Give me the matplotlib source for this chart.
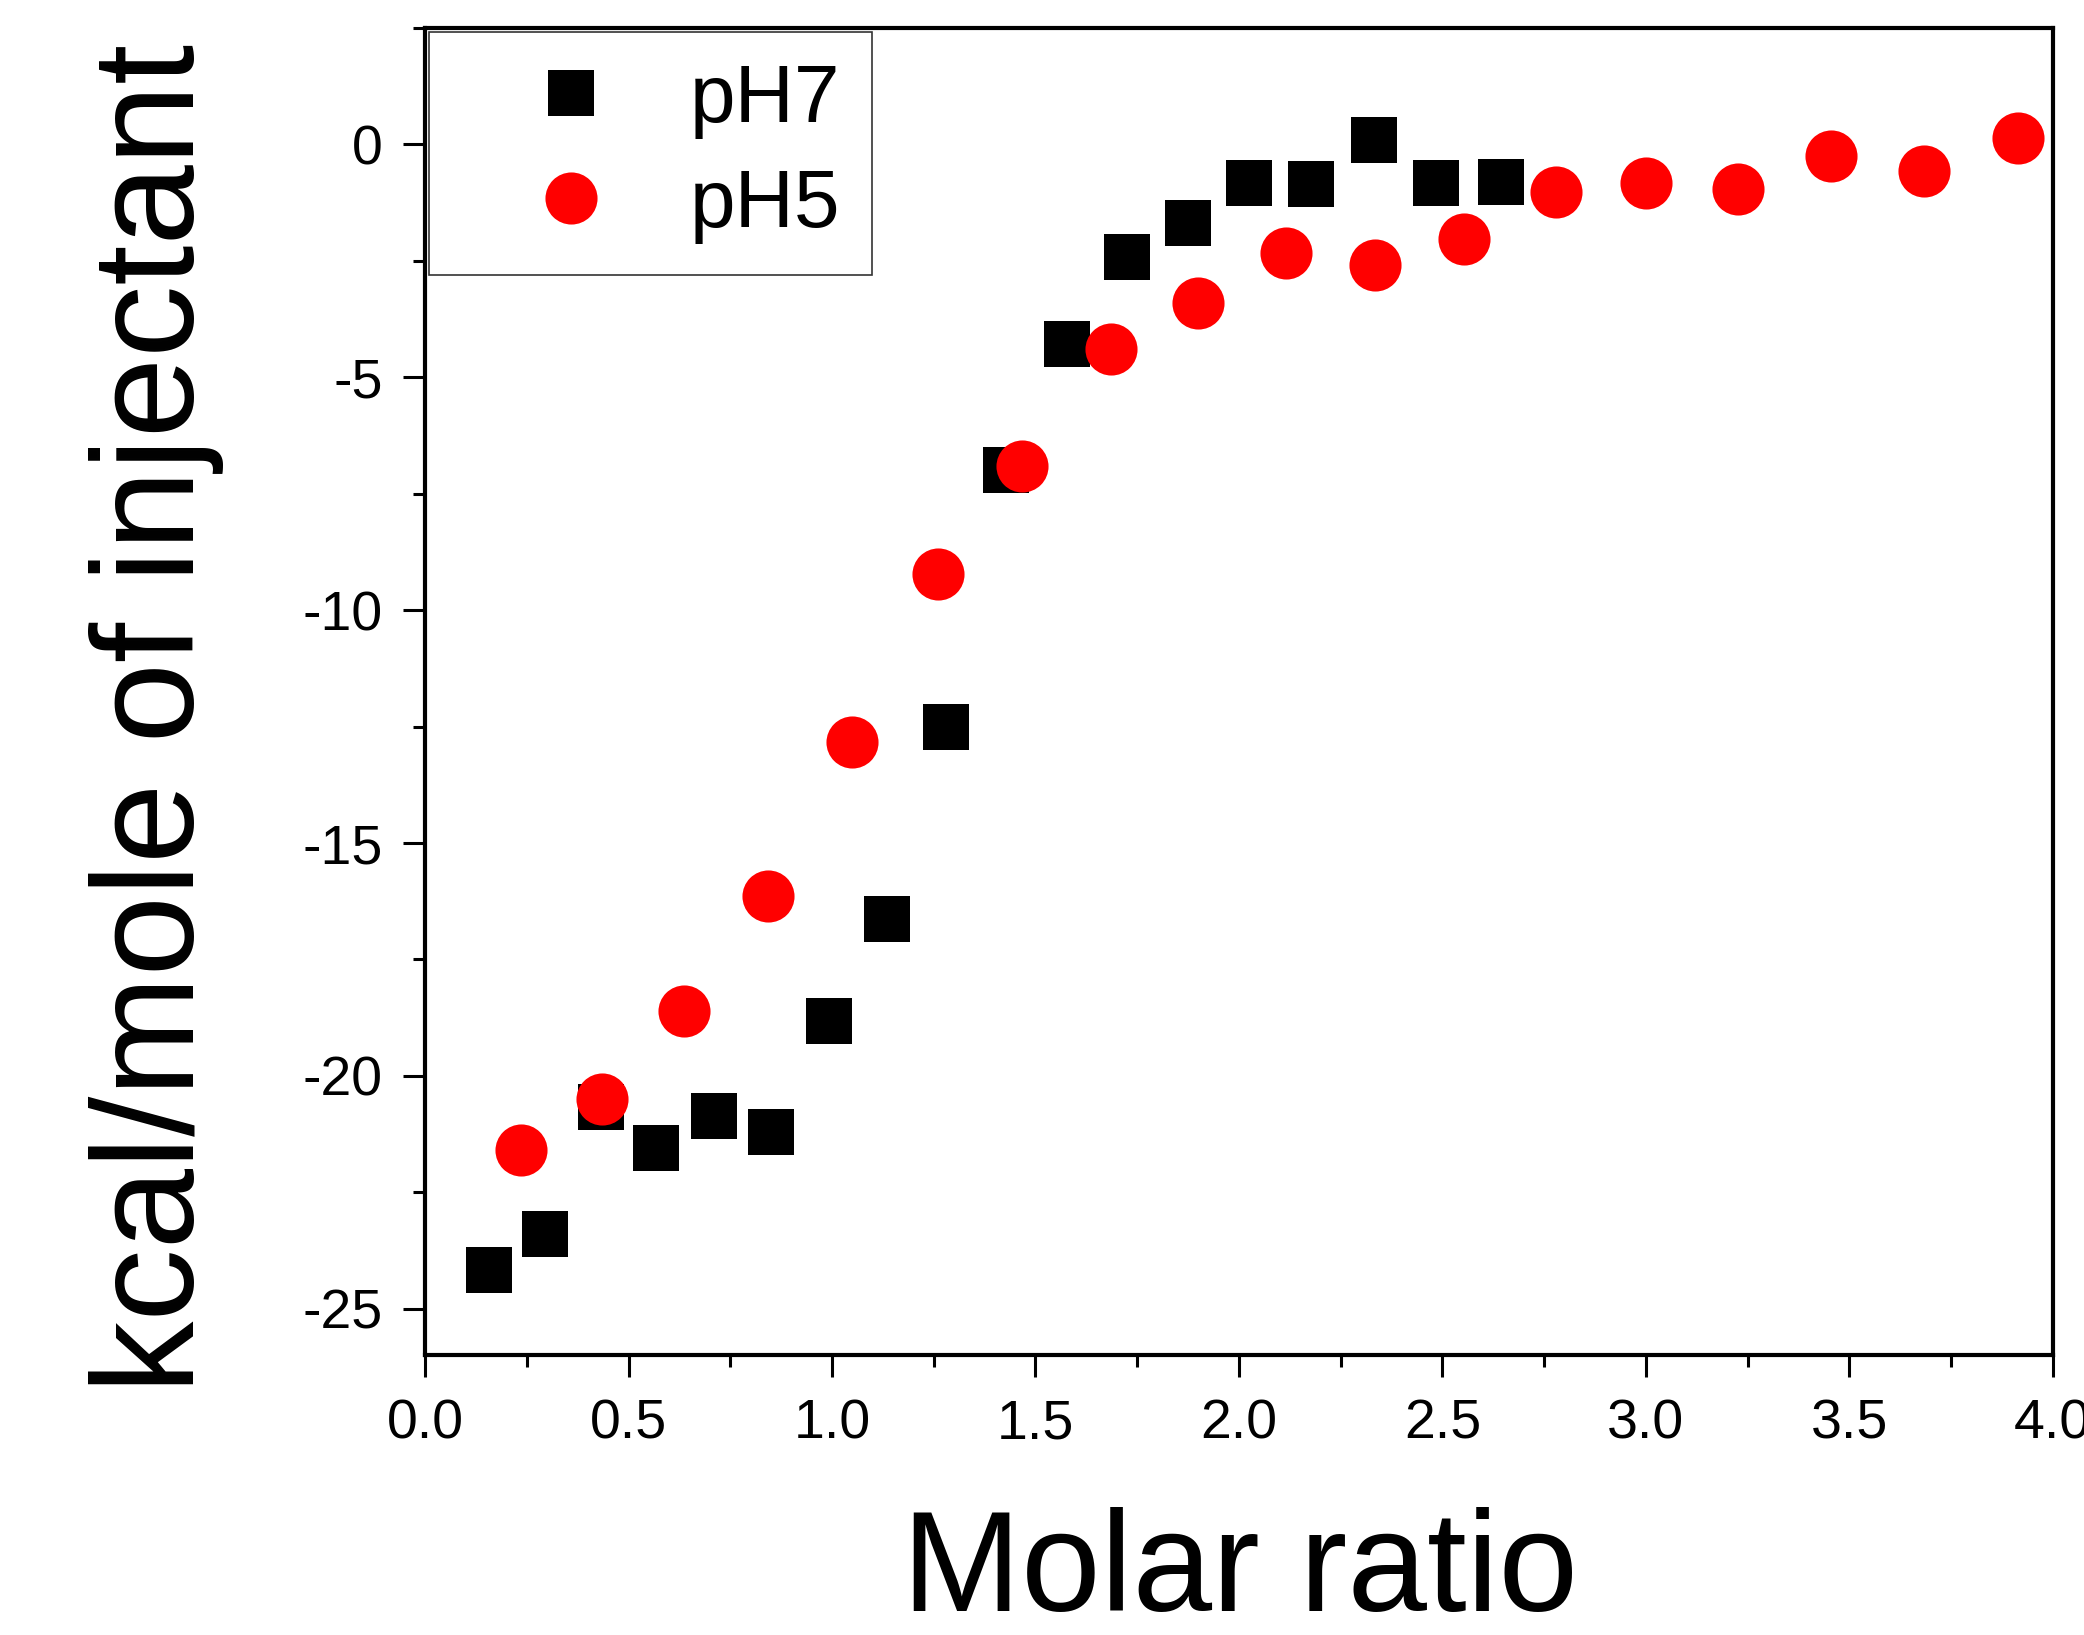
import numpy as np
import matplotlib
matplotlib.use('Agg')
import matplotlib.pyplot as plt
from matplotlib.ticker import MultipleLocator

# valores
ratio_ph7 = [0.157, 0.294, 0.431, 0.568, 0.709, 0.849, 0.993, 1.136, 1.280,
             1.427, 1.577, 1.724, 1.874, 2.024, 2.178, 2.331, 2.485, 2.645]
heat_ph7 = [-24.17, -23.40, -20.66, -21.54, -20.86, -21.20, -18.83, -16.63, -12.51,
            -7.00, -4.29, -2.43, -1.69, -0.83, -0.86, 0.09, -0.83, -0.80]

ratio_ph5 = [0.235, 0.434, 0.637, 0.842, 1.048, 1.260, 1.466, 1.685, 1.900,
             2.116, 2.335, 2.553, 2.779, 3.000, 3.226, 3.455, 3.684, 3.915]
heat_ph5 = [-21.60, -20.49, -18.60, -16.14, -12.83, -9.23, -6.91, -4.40, -3.40,
            -2.34, -2.60, -2.03, -1.03, -0.83, -0.97, -0.26, -0.57, 0.14]

plt.rcParams['font.family'] = ['Liberation Sans', 'DejaVu Sans']
plt.rcParams['axes.unicode_minus'] = False

fig = plt.figure(figsize=(20.84, 16.35), dpi=100)
ax = fig.add_axes([0.204, 0.171, 0.781, 0.812])

ax.plot(ratio_ph7, heat_ph7, 's', color='black', markersize=33, markeredgewidth=0, label='pH7')
ax.plot(ratio_ph5, heat_ph5, 'o', color='red', markersize=37.5, markeredgewidth=0, label='pH5')

ax.set_xlim(0, 4)
ax.set_ylim(-26, 2.5)
ax.xaxis.set_major_locator(MultipleLocator(0.5))
ax.xaxis.set_minor_locator(MultipleLocator(0.25))
ax.yaxis.set_major_locator(MultipleLocator(5))
ax.yaxis.set_minor_locator(MultipleLocator(2.5))
ax.xaxis.set_major_formatter(matplotlib.ticker.FormatStrFormatter('%.1f'))

for s in ax.spines.values():
    s.set_linewidth(3)
ax.tick_params(which='major', direction='out', length=16, width=2.2, labelsize=40)
ax.tick_params(which='minor', direction='out', length=8.5, width=2.2)
ax.tick_params(axis='x', which='major', pad=15)
ax.tick_params(axis='y', which='major', pad=14.5)

leg = ax.legend(loc='upper left', bbox_to_anchor=(0.0, 1.0), fontsize=59, frameon=True,
                fancybox=False, borderpad=0.38, borderaxespad=0.05, handlelength=2.7,
                handletextpad=0.1, labelspacing=0.35, numpoints=1)
leg.get_frame().set_edgecolor('black')
leg.get_frame().set_linewidth(1.2)

fig.text(1240 / 2084, 1 - 1611 / 1635, 'Molar ratio', fontsize=103, ha='center', va='baseline')
fig.text(157 / 2084, 1 - 718 / 1635, 'kcal/mole of injectant', fontsize=104,
         rotation=90, ha='center', va='center')

fig.savefig('out.png', dpi=100)
